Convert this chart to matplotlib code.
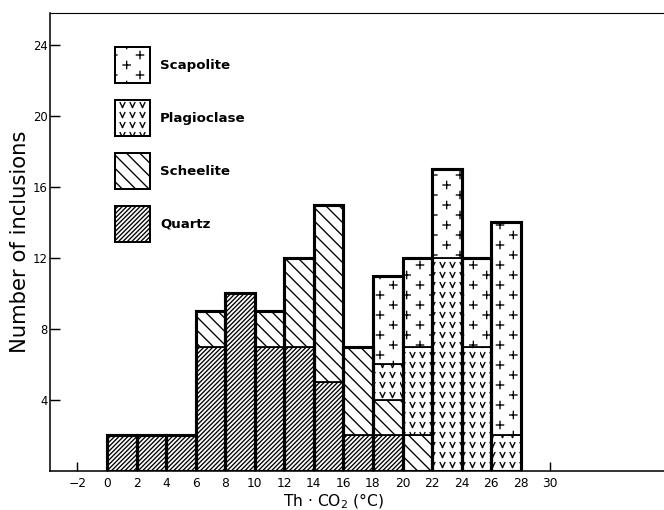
import warnings
import numpy as np
import matplotlib
matplotlib.use('Agg')
import matplotlib.pyplot as plt
import matplotlib.hatch as mhatch
from matplotlib.path import Path
from matplotlib.patches import Patch

warnings.filterwarnings('ignore')

# histogram data: 2 degree bins starting at 0
bin_edges = [0, 2, 4, 6, 8, 10, 12, 14, 16, 18, 20, 22, 24, 26]
quartz = [2, 2, 2, 7, 10, 7, 7, 5, 2, 2, 0, 0, 0, 0]
scheelite = [0, 0, 0, 2, 0, 2, 5, 10, 5, 2, 2, 0, 0, 0]
plagioclase = [0, 0, 0, 0, 0, 0, 0, 0, 0, 2, 5, 12, 7, 2]
scapolite = [0, 0, 0, 0, 0, 0, 0, 0, 0, 5, 5, 5, 5, 12]

xticks = list(range(-2, 31, 2))
yticks = [4, 8, 12, 16, 20, 24]


# small stamped symbols as hatch patterns ("+" crosses and "v" marks)
class GlyphHatch(mhatch.HatchPatternBase):
    char = None
    glyph = []
    size = 0.1
    cols = 4
    rows = 4
    stagger = False

    def __init__(self, hatch, density):
        n = hatch.count(self.char)
        self.ncols = n * self.cols
        self.nrows = n * self.rows
        self.num_vertices = self.ncols * self.nrows * len(self.glyph) * 2

    def set_vertices_and_codes(self, vertices, codes):
        pts = []
        for r in range(self.nrows):
            off = 0.5 if (self.stagger and r % 2) else 0.0
            cy = (r + 0.5) / self.nrows
            for c in range(self.ncols):
                cx = (c + 0.25 + off) / self.ncols
                for x0, y0, x1, y1 in self.glyph:
                    pts.append([cx + x0 * self.size, cy + y0 * self.size])
                    pts.append([cx + x1 * self.size, cy + y1 * self.size])
        vertices[:] = pts
        codes[0::2] = Path.MOVETO
        codes[1::2] = Path.LINETO


class CrossHatch(GlyphHatch):
    char = 'k'
    glyph = [(-0.5, 0, 0.5, 0), (0, -0.5, 0, 0.5)]
    size = 0.09
    cols = 3
    rows = 8
    stagger = True


class VeeHatch(GlyphHatch):
    char = 'v'
    glyph = [(-0.5, 0.5, 0, -0.5), (0, -0.5, 0.5, 0.5)]
    size = 0.06
    cols = 8
    rows = 8


mhatch._hatch_types.append(CrossHatch)
mhatch._hatch_types.append(VeeHatch)

plt.rcParams['hatch.linewidth'] = 1.2
plt.rcParams['hatch.color'] = 'black'
plt.rcParams['font.family'] = 'DejaVu Sans'

QUARTZ_H = '//////'
SCHEELITE_H = '\\\\'

fig = plt.figure(figsize=(8.3, 6.375), dpi=80)
ax = fig.add_axes([50 / 664, 1 - 471 / 510, 614 / 664, 458 / 510])

left = np.array(bin_edges, dtype=float)
layers = [(quartz, QUARTZ_H), (scheelite, SCHEELITE_H), (plagioclase, 'v'), (scapolite, 'k')]
bottom = np.zeros(len(left))
for vals, hatch in layers:
    vals = np.array(vals, dtype=float)
    m = vals > 0
    ax.bar(left[m], vals[m], width=2, bottom=bottom[m], align='edge',
           facecolor='white', edgecolor='black', linewidth=1.6, hatch=hatch, zorder=2)
    bottom += vals

# heavy outline around each full bar
ax.bar(left, bottom, width=2, align='edge', fill=False,
       edgecolor='black', linewidth=2.8, zorder=3)

ax.set_xlim(-3.86, 37.7)
ax.set_ylim(0, 25.8)
ax.set_xticks(xticks)
ax.set_yticks(yticks)
ax.set_axisbelow(True)
ax.spines['right'].set_visible(False)
ax.spines['left'].set_linewidth(1.4)
ax.spines['bottom'].set_linewidth(1.4)
ax.spines['top'].set_linewidth(1.0)
ax.tick_params(axis='y', direction='in', length=9, width=1.3, pad=2, labelsize=10.5)
ax.tick_params(axis='x', direction='in', length=8, width=1.3, pad=5, labelsize=11)

ax.set_ylabel('Number of inclusions', fontsize=19)
ax.yaxis.set_label_coords(-0.033, 0.5)
ax.set_xlabel('Th · CO$_2$ (°C)', fontsize=14)
ax.xaxis.set_label_coords((333 - 50) / 614, -0.044)

handles = [Patch(facecolor='white', edgecolor='black', linewidth=1.8, hatch='k', label='Scapolite'),
           Patch(facecolor='white', edgecolor='black', linewidth=1.8, hatch='v', label='Plagioclase'),
           Patch(facecolor='white', edgecolor='black', linewidth=1.8, hatch=SCHEELITE_H, label='Scheelite'),
           Patch(facecolor='white', edgecolor='black', linewidth=1.8, hatch=QUARTZ_H, label='Quartz')]
leg = ax.legend(handles=handles, loc='upper left', bbox_to_anchor=(0.106, 0.926),
                frameon=False, borderpad=0, borderaxespad=0,
                handlelength=2.63, handleheight=3.78, labelspacing=1.28, handletextpad=0.75,
                prop={'weight': 'bold', 'size': 12})

fig.savefig('out.png', dpi=80)
